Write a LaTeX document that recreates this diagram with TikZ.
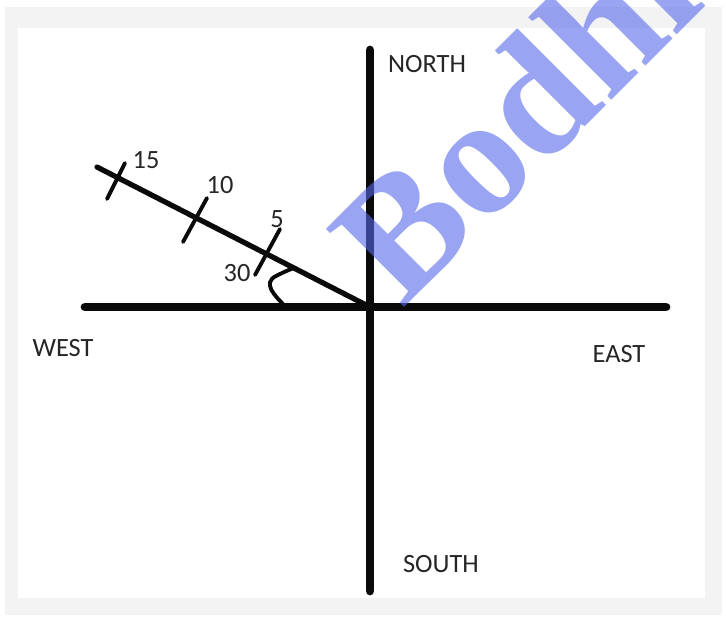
\documentclass[tikz,border=0pt]{standalone}
\usepackage{fontspec}
\setmainfont{Carlito}
\newfontfamily\markfont{Liberation Serif}
\usepackage{tikz}
\usetikzlibrary{
	positioning,
	calc
}
\definecolor{FrameGray}{RGB}{243,243,243}
\definecolor{InkBlack}{RGB}{10,10,10}
\definecolor{MarkBlue}{RGB}{85,105,235}

\begin{document}
\begin{tikzpicture}[
	x=0.01cm,
	y=-0.01cm,
	axisline/.style={InkBlack, line width=2.5pt, line cap=round},
	rayline/.style={InkBlack, line width=1.5pt, line cap=round},
	tickline/.style={InkBlack, line width=1.1pt, line cap=round},
	dirlabel/.style={font=\fontsize{7.5}{9}\selectfont, text=black!85, inner sep=0pt}
	]
				
				% Frame
				\fill[white] (0,0) rectangle (726,620);
				\fill[FrameGray] (5,7) rectangle (722,615);
				\fill[white] (18,28) rectangle (705,598);
				\useasboundingbox (0,0) rectangle (726,620);
				
				% Points
				\coordinate (O) at (370,307);
				\coordinate (N) at (370,50);
				\coordinate (S) at (370,591);
				\coordinate (W) at (85,307);
				\coordinate (E) at (666,307);
				\coordinate (R) at (97,167);
				
				% Axes
				\draw[axisline] (N) -- (S);
				\draw[axisline] (W) -- (E);
				
				% Ray
				\draw[rayline] (O) -- (R);
				
				% Ticks
				\draw[tickline] (107,199) -- (125,163);
				\draw[tickline] (183,242) -- (207,198);
				\draw[tickline] (255,275) -- (280,229);
				
				% Angle
				\draw[
				tickline
				]
				(284,305) .. controls (275,296) and (262,283) .. (276,276)
				.. controls (282,273) and (288,270) .. (294,268);
				
				% Labels
				\node[dirlabel] (north) at (427,64) {NORTH};
				\node[dirlabel] (south) at (441,564) {SOUTH};
				\node[dirlabel] (west) at (63,348) {WEST};
				\node[dirlabel] (east) at (619,354) {EAST};
				\node[dirlabel] (n15) at (146,160) {15};
				\node[dirlabel] (n10) at (220,185) {10};
				\node[dirlabel] (n5) at (277,219) {5};
				\node[dirlabel] (n30) at (237,273) {30};
				
				% Watermark
				\begin{scope}
				\clip (0,0) rectangle (726,620);
				\node[
				anchor=base west,
				rotate=45,
				inner sep=0pt,
				text=MarkBlue,
				text opacity=0.6,
				font=\markfont\bfseries\fontsize{48}{52}\selectfont
				]
				(mark) at (402,310) {Bodhi.};
				\end{scope}
				
			\end{tikzpicture}
\end{document}
